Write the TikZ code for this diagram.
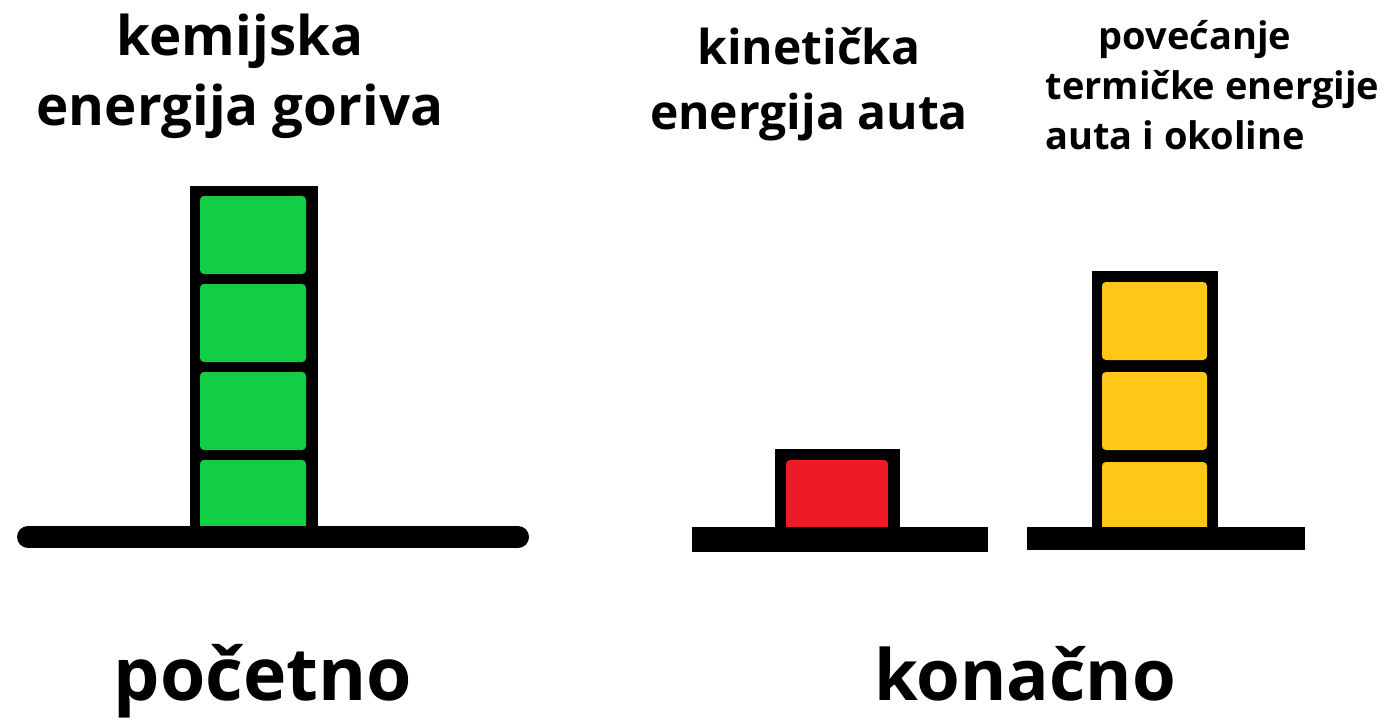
\documentclass[tikz,border=0pt]{standalone}
\usepackage{fontspec}
\setmainfont{Open Sans}
\definecolor{blockgreen}{RGB}{18,206,68}
\definecolor{blockred}{RGB}{237,28,36}
\definecolor{blockyellow}{RGB}{255,200,24}
\tikzset{every picture/.style={line width=0.75pt}}
\tikzset{blk/.style={rounded corners=3pt}}
\begin{document}
\begin{tikzpicture}[x=0.75pt,y=0.75pt,yscale=-1,xscale=1]
\useasboundingbox (0,0) rectangle (1398,718);

%Shape: Column frame (green)
\fill (190,186) rectangle (318,540) ;
%Shape: Rectangle green 1
\fill [blk, blockgreen] (200,196) rectangle (306,274) ;
%Shape: Rectangle green 2
\fill [blk, blockgreen] (200,284) rectangle (306,362) ;
%Shape: Rectangle green 3
\fill [blk, blockgreen] (200,372) rectangle (306,450) ;
%Shape: Rectangle green 4
\fill [blk, blockgreen] (200,460) rectangle (306,538) ;
%Straight Lines: base left
\draw [line width=16.5pt, line cap=round] (28,537) -- (518,537) ;

%Shape: Column frame (red)
\fill (775,449) rectangle (900,530) ;
%Shape: Rectangle red
\fill [blk, blockred] (786,460) rectangle (888,532) ;
%Shape: base middle
\fill (692,527) rectangle (988,552) ;

%Shape: Column frame (yellow)
\fill (1092,271) rectangle (1218,530) ;
%Shape: Rectangle yellow 1
\fill [blk, blockyellow] (1102,282) rectangle (1207,360) ;
%Shape: Rectangle yellow 2
\fill [blk, blockyellow] (1102,372) rectangle (1207,450) ;
%Shape: Rectangle yellow 3
\fill [blk, blockyellow] (1102,462) rectangle (1207,532) ;
%Shape: base right
\fill (1027,527) rectangle (1305,550) ;

% Text Node
\draw (240,13) node [anchor=north][inner sep=0pt] [align=center, font=\bfseries\fontsize{41}{52.5}\selectfont] (fuel) {kemijska\\energija goriva};
% Text Node
\draw (809,27) node [anchor=north][inner sep=0pt] [align=center, font=\bfseries\fontsize{36}{49}\selectfont] (kinetic) {kinetička\\energija auta};
% Text Node
\draw (1045,20) node [anchor=north west][inner sep=0pt] [align=left, font=\bfseries\fontsize{28.5}{37.5}\selectfont] (thermal) {\hspace*{40pt}povećanje\\termičke energije\\auta i okoline};
% Text Node
\draw (263,700) node [anchor=base][inner sep=0pt] [font=\bfseries\fontsize{55}{66}\selectfont] (initial) {početno};
% Text Node
\draw (1025,700) node [anchor=base][inner sep=0pt] [font=\bfseries\fontsize{53}{66}\selectfont] (final) {konačno};

\end{tikzpicture}
\end{document}
